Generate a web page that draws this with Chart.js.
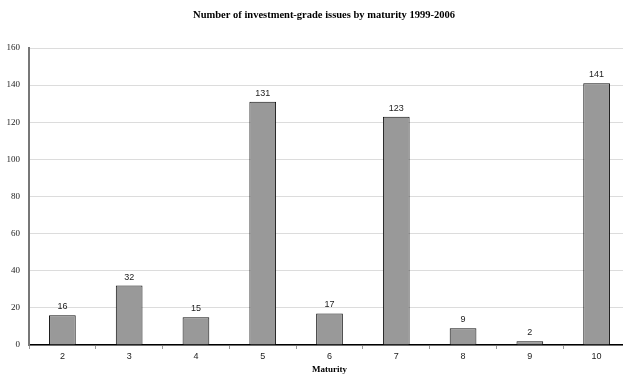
<!DOCTYPE html>
<html>
<head>
<meta charset="utf-8">
<script src="https://cdn.jsdelivr.net/npm/chart.js@4"></script>
<style>
  html, body { margin: 0; padding: 0; background: #fff; overflow: hidden; }
  #wrap { width: 632px; height: 375px; }
</style>
</head>
<body>
<div id="wrap"><canvas id="c" width="632" height="375"></canvas></div>
<script>
const maturities = ['2', '3', '4', '5', '6', '7', '8', '9', '10'];
const issueCounts = [16, 32, 15, 131, 17, 123, 9, 2, 141];
const yTicks = [0, 20, 40, 60, 80, 100, 120, 140, 160];
const chartTitle = 'Number of investment-grade issues by maturity 1999-2006';
const xAxisTitle = 'Maturity';

// Value labels above each bar, plus the chart and axis titles
const labelsPlugin = {
  id: 'labels',
  afterDatasetsDraw(chart) {
    const ctx = chart.ctx;
    const meta = chart.getDatasetMeta(0);
    ctx.save();
    ctx.fillStyle = '#222';
    ctx.font = '9px "Liberation Sans", Arial, sans-serif';
    ctx.textAlign = 'center';
    ctx.textBaseline = 'bottom';
    meta.data.forEach((bar, i) => {
      ctx.fillText(String(issueCounts[i]), bar.x, bar.y - 4);
    });
    const area = chart.chartArea;
    ctx.fillStyle = '#000';
    ctx.font = 'bold 10.5px "Liberation Serif", "Times New Roman", serif';
    ctx.textBaseline = 'middle';
    ctx.fillText(chartTitle, 324, 15);
    ctx.font = 'bold 9px "Liberation Serif", "Times New Roman", serif';
    ctx.fillText(xAxisTitle, (area.left + area.right) / 2, 370);
    ctx.restore();
  }
};

new Chart(document.getElementById('c'), {
  type: 'bar',
  data: {
    labels: maturities,
    datasets: [{
      data: issueCounts,
      backgroundColor: '#999999',
      borderColor: '#111111',
      borderWidth: 1,
      borderSkipped: 'bottom',
      categoryPercentage: 1,
      barPercentage: 0.4
    }]
  },
  options: {
    responsive: false,
    animation: false,
    layout: { padding: { top: 48, left: 0, right: 2, bottom: 0 } },
    plugins: { legend: { display: false }, tooltip: { enabled: false } },
    scales: {
      x: {
        offset: true,
        grid: {
          offset: true,
          drawOnChartArea: false,
          drawTicks: true,
          tickLength: 4,
          color: '#999'
        },
        border: { color: '#000', width: 1.5 },
        ticks: {
          color: '#222',
          padding: 2,
          font: { family: '"Liberation Sans", Arial, sans-serif', size: 9 }
        },
        afterFit(scale) { scale.height = 30; }
      },
      y: {
        min: 0,
        max: 160,
        afterBuildTicks(scale) { scale.ticks = yTicks.map(v => ({ value: v })); },
        grid: { color: '#dcdcdc', drawTicks: false, lineWidth: 1 },
        border: { color: '#777', width: 2 },
        ticks: {
          color: '#222',
          padding: 9,
          font: { family: '"Liberation Serif", "Times New Roman", serif', size: 9 }
        },
        afterFit(scale) { scale.width = 29; }
      }
    }
  },
  plugins: [labelsPlugin]
});
</script>
</body>
</html>
